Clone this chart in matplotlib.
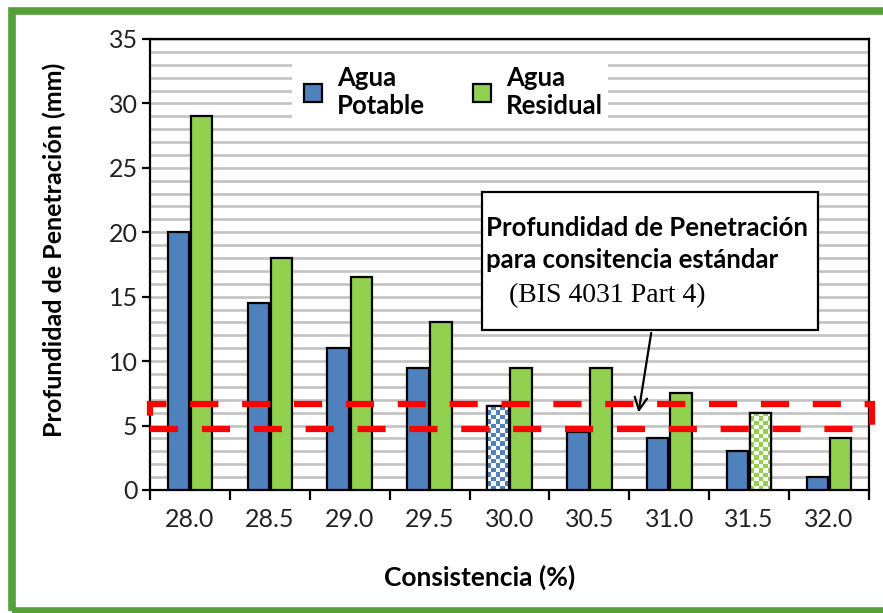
import matplotlib

matplotlib.use("Agg")
import matplotlib.pyplot as plt
import numpy as np
from matplotlib.colors import ListedColormap
from matplotlib.lines import Line2D
from matplotlib.patches import Rectangle
from matplotlib.transforms import blended_transform_factory

# data
consistencia = ["28.0", "28.5", "29.0", "29.5", "30.0", "30.5", "31.0", "31.5", "32.0"]
agua_potable = [20, 14.5, 11, 9.5, 6.5, 4.5, 4, 3, 1]
agua_residual = [29, 18, 16.5, 13, 9.5, 9.5, 7.5, 6, 4]
checker_potable = 4   # index of the chequered blue bar (30.0)
checker_residual = 7  # index of the chequered green bar (31.5)
banda_std = (4.7, 6.7)  # red dashed band, penetration for standard consistency

BLUE, GREEN, BORDER, GRID = "#4f81bd", "#92d050", "#56a03a", "#c3c3c3"
SANS = ["Lato", "DejaVu Sans"]

plt.rcParams.update({
    "font.family": SANS,
    "axes.linewidth": 1.6,
})

fig = plt.figure(figsize=(8.83, 6.13), dpi=100)
ax = fig.add_axes([0.170, 0.2007, 0.814, 0.7357])

x = np.arange(len(consistencia))
w, off = 0.27, 0.145
b1 = ax.bar(x - off, agua_potable, w, color=BLUE, edgecolor="black", lw=1.6, zorder=3)
b2 = ax.bar(x + off, agua_residual, w, color=GREEN, edgecolor="black", lw=1.6, zorder=3)

ax.set_xlim(-0.5, len(consistencia) - 0.5)
ax.set_ylim(0, 35)


def checker(bar, color):
    # Excel-style chequered fill, clipped to the bar outline
    bx, by = bar.get_x(), bar.get_y()
    bw, bh = bar.get_width(), bar.get_height()
    p0 = ax.transData.transform((bx, by))
    p1 = ax.transData.transform((bx + bw, by + bh))
    ncol = 5
    cell = (p1[0] - p0[0]) / ncol
    nrow = max(1, int(round((p1[1] - p0[1]) / cell)))
    grid = np.indices((nrow, ncol)).sum(axis=0) % 2
    bar.set_facecolor("white")
    im = ax.imshow(grid, extent=(bx, bx + bw, by, by + bh), cmap=ListedColormap(["white", color]),
                   interpolation="nearest", aspect="auto", zorder=3.5)
    im.set_clip_path(bar)
    ax.add_patch(Rectangle((bx, by), bw, bh, fill=False, edgecolor="black", lw=1.6, zorder=4))


checker(b1[checker_potable], BLUE)
checker(b2[checker_residual], GREEN)
ax.set_xlim(-0.5, len(consistencia) - 0.5)
ax.set_ylim(0, 35)

# grid: a gray line every unit
ax.set_yticks(np.arange(0, 36, 5))
ax.set_yticks(np.arange(0, 36, 1), minor=True)
ax.yaxis.grid(True, which="both", color=GRID, lw=1.9, zorder=0)
ax.tick_params(axis="y", which="minor", length=0)
ax.tick_params(axis="y", which="major", direction="out", length=6, width=1.6,
               labelsize=18, labelcolor="#222222", pad=3)

ax.set_xticks(x, consistencia)
ax.set_xticks(np.arange(-0.5, len(consistencia), 1), minor=True)
ax.tick_params(axis="x", which="major", length=0, labelsize=18, labelcolor="#222222", pad=13)
ax.tick_params(axis="x", which="minor", direction="out", length=7, width=1.6)

ax.set_xlabel("Consistencia (%)", fontsize=19, fontweight="bold")
ax.xaxis.set_label_coords(0.458, -0.165)
ax.set_ylabel("Profundidad de Penetración (mm)", fontsize=18, fontweight="bold")
ax.yaxis.set_label_coords(-0.117, 0.532)

# legend
handles = [
    Line2D([], [], ls="none", marker="s", ms=13, mfc=BLUE, mec="black", mew=1.6),
    Line2D([], [], ls="none", marker="s", ms=13, mfc=GREEN, mec="black", mew=1.6),
]
leg = ax.legend(handles, ["Agua\nPotable", "Agua\nResidual"], ncol=2, loc="upper left",
                bbox_to_anchor=(0.18, 0.98), frameon=True, fancybox=False,
                framealpha=1, edgecolor="none", borderpad=0.2, labelspacing=0.2,
                handletextpad=0.35, columnspacing=1.6, handlelength=1.2,
                prop={"family": SANS, "weight": "bold", "size": 18.5})
leg.set_zorder(2)
for t in leg.get_texts():
    t.set_linespacing(1.2)

# standard-consistency band
blend = blended_transform_factory(ax.transAxes, ax.transData)
ax.add_patch(Rectangle((0.0, banda_std[0]), 1.004, banda_std[1] - banda_std[0],
                       transform=blend, fill=False, edgecolor="#ff0000", lw=4.5,
                       ls=(0, (4.5, 3.8)), clip_on=False, zorder=6))

# annotation box with arrow
ax.add_patch(Rectangle((0.462, 0.355), 0.467, 0.306, transform=ax.transAxes,
                       facecolor="white", edgecolor="black", lw=1.6, zorder=7))
ax.text(0.468, 0.545, "Profundidad de Penetración\npara consitencia estándar",
        transform=ax.transAxes, fontsize=18.5, fontweight="bold", va="center",
        linespacing=1.4, zorder=8)
ax.text(0.50, 0.43, "(BIS 4031 Part 4)", transform=ax.transAxes, va="center",
        fontsize=20, family=["Liberation Serif", "DejaVu Serif"], zorder=8)
ax.annotate("", xy=(5.61, 5.8), xytext=(5.78, 12.4),
            arrowprops=dict(arrowstyle="->,head_length=0.9,head_width=0.45", color="black", lw=1.6),
            zorder=8)

# green frame around the whole picture
fig.add_artist(Rectangle((11.5 / 883, 2 / 613), 1.1, 1 - 10.5 / 613 - 2 / 613,
                         transform=fig.transFigure, fill=False, edgecolor=BORDER,
                         lw=5.5, clip_on=False))

fig.savefig("out.png", dpi=100)
